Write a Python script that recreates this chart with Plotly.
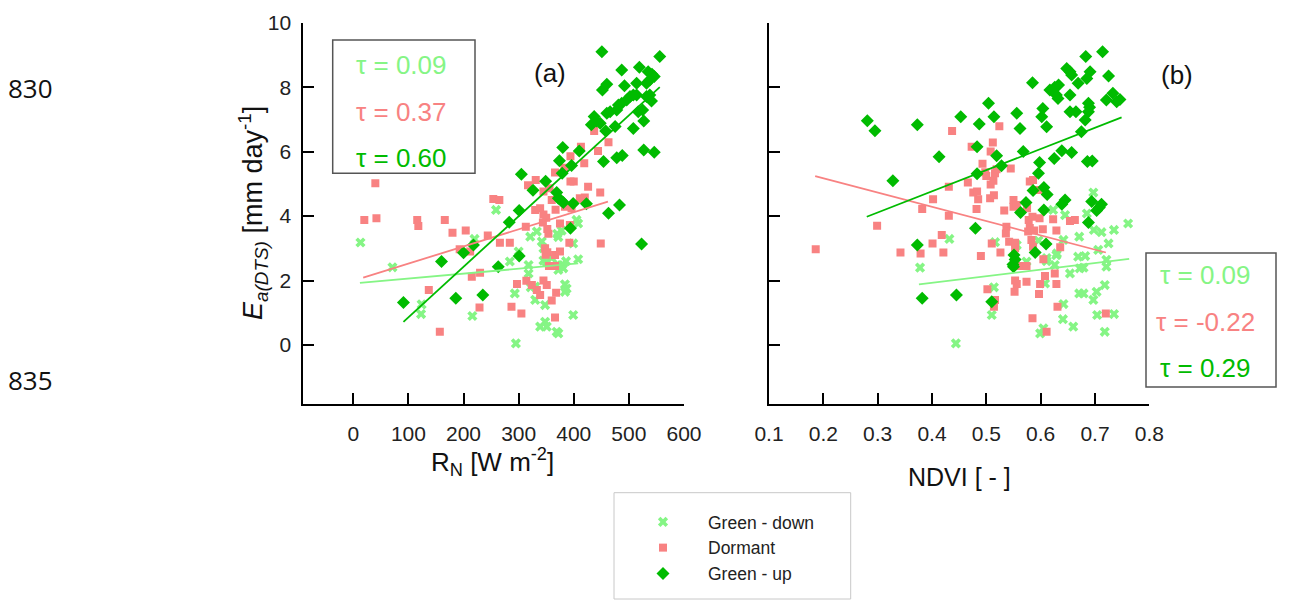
import plotly.graph_objects as go

W, H = 1289, 603

# ---------------- DATA ----------------
series_names = ["Green - down", "Dormant", "Green - up"]
tau_a = ["0.09", "0.37", "0.60"]
tau_b = ["0.09", "-0.22", "0.29"]

rn_ticks = [0, 100, 200, 300, 400, 500, 600]
ndvi_ticks = [0.1, 0.2, 0.3, 0.4, 0.5, 0.6, 0.7, 0.8]
ea_ticks = [0, 2, 4, 6, 8, 10]

# Panel (a): R_N vs Ea  (x, y) pairs
a_green_down = [(13, 3.18), (71, 2.41), (124, 1.26), (123, 0.96), (216, 0.90), (220, 3.29), (259, 4.19),
                (333, 3.52), (321, 3.36), (342, 3.21), (370, 3.45), (378, 3.55), (372, 3.35), (405, 3.88),
                (408, 3.77), (399, 3.15), (372, 2.48), (378, 2.48), (386, 2.60), (381, 2.38), (372, 2.33),
                (408, 2.66), (345, 2.62), (351, 2.57), (318, 2.48), (284, 2.59), (318, 2.22), (322, 1.79),
                (330, 1.81), (384, 1.88), (387, 1.75), (384, 1.65), (293, 1.60), (330, 1.40), (348, 1.24),
                (399, 0.93), (339, 0.57), (348, 0.72), (351, 0.57), (369, 0.41), (372, 0.36), (295, 0.05),
                (345, 3.00), (360, 2.70), (300, 2.90)]
a_dormant = [(40, 5.02), (20, 3.88), (42, 3.93), (116, 3.88), (118, 3.69), (166, 3.88), (180, 3.48),
             (204, 3.55), (244, 3.40), (254, 4.53), (265, 4.50), (266, 3.17), (284, 3.17), (193, 2.97),
             (212, 2.90), (230, 2.24), (215, 2.12), (137, 1.71), (157, 0.41), (229, 1.16), (287, 1.19),
             (305, 0.98), (297, 1.89), (314, 1.99), (324, 1.86), (333, 1.71), (339, 1.55), (345, 2.00),
             (351, 1.86), (360, 1.38), (366, 0.85), (368, 1.62), (313, 3.67), (330, 4.19), (339, 4.24),
             (345, 4.05), (350, 3.95), (344, 3.80), (352, 3.60), (354, 3.45), (367, 4.20), (384, 4.29),
             (396, 4.24), (411, 4.55), (420, 4.58), (448, 4.73), (375, 3.77), (393, 3.72), (348, 3.00),
             (352, 2.88), (349, 2.80), (366, 2.79), (375, 2.90), (392, 3.17), (449, 3.15), (355, 2.45),
             (366, 2.45), (437, 6.64), (463, 6.29), (444, 6.02), (413, 6.15), (419, 5.64), (394, 5.86),
             (394, 5.07), (400, 5.07), (426, 4.91), (366, 5.35), (331, 5.12), (317, 4.96), (345, 4.76),
             (356, 4.86), (417, 4.52), (383, 5.50), (360, 4.50)]
a_green_up = [(451, 9.10), (556, 8.95), (487, 8.53), (519, 8.62), (535, 8.48), (542, 8.40), (546, 8.33),
              (538, 8.22), (532, 8.12), (514, 8.12), (492, 8.04), (460, 8.09), (452, 7.91), (538, 7.76),
              (532, 7.71), (541, 7.57), (525, 7.29), (517, 7.24), (514, 7.76), (508, 7.76), (502, 7.71),
              (496, 7.60), (487, 7.50), (481, 7.45), (478, 7.29), (466, 7.24), (460, 7.19), (437, 7.09),
              (441, 6.95), (432, 6.83), (448, 6.88), (458, 6.64), (475, 6.78), (508, 6.72), (527, 6.95),
              (380, 6.13), (410, 6.02), (374, 5.72), (396, 5.57), (454, 5.69), (478, 5.81), (488, 5.88),
              (527, 6.05), (546, 5.98), (305, 5.30), (349, 5.08), (326, 4.80), (369, 4.73), (372, 4.55),
              (377, 4.48), (381, 4.42), (379, 5.33), (399, 4.39), (423, 4.38), (483, 4.34), (463, 4.09),
              (394, 3.62), (301, 4.17), (283, 3.81), (523, 3.13), (301, 2.76), (263, 2.43), (218, 3.10),
              (200, 2.86), (160, 2.59), (91, 1.32), (186, 1.45), (235, 1.55)]

# Panel (b): NDVI vs Ea  (x, y) pairs
b_green_down = [(0.378, 2.40), (0.432, 3.29), (0.444, 0.05), (0.510, 0.93), (0.514, 1.79), (0.516, 3.19),
                (0.556, 3.10), (0.574, 2.59), (0.599, 0.36), (0.605, 0.52), (0.596, 3.24), (0.623, 4.19),
                (0.629, 2.79), (0.626, 2.48), (0.642, 1.27), (0.641, 0.80), (0.645, 4.03), (0.654, 2.22),
                (0.660, 0.57), (0.671, 3.36), (0.669, 2.74), (0.682, 2.76), (0.672, 2.38), (0.679, 2.40),
                (0.671, 1.60), (0.679, 1.60), (0.685, 4.08), (0.697, 4.73), (0.698, 3.57), (0.712, 3.50),
                (0.697, 1.40), (0.703, 1.65), (0.718, 1.86), (0.704, 0.93), (0.718, 0.41), (0.725, 3.15),
                (0.721, 2.64), (0.721, 2.43), (0.735, 3.57), (0.735, 0.96), (0.761, 3.77), (0.706, 2.95),
                (0.642, 3.26), (0.611, 2.60), (0.608, 1.91), (0.630, 2.84), (0.611, 2.70)]
b_dormant = [(0.186, 2.97), (0.299, 3.70), (0.342, 2.87), (0.379, 2.84), (0.382, 4.22), (0.402, 4.52),
             (0.431, 4.01), (0.431, 4.91), (0.401, 3.15), (0.418, 3.41), (0.421, 2.87), (0.437, 6.64),
             (0.466, 5.04), (0.473, 6.15), (0.476, 4.73), (0.483, 4.76), (0.485, 4.52), (0.482, 4.22),
             (0.490, 2.76), (0.493, 5.62), (0.500, 5.24), (0.498, 5.36), (0.508, 6.00), (0.512, 6.28),
             (0.524, 6.79), (0.508, 4.98), (0.513, 5.10), (0.516, 5.33), (0.507, 4.55), (0.514, 4.65),
             (0.519, 5.45), (0.545, 5.48), (0.510, 3.15), (0.526, 2.87), (0.502, 1.73), (0.516, 1.40),
             (0.514, 1.19), (0.533, 4.17), (0.537, 3.67), (0.536, 3.46), (0.542, 3.20), (0.553, 3.17),
             (0.553, 3.00), (0.550, 4.50), (0.550, 4.29), (0.556, 4.34), (0.553, 2.00), (0.556, 1.89),
             (0.552, 1.65), (0.562, 2.45), (0.574, 2.45), (0.574, 1.96), (0.575, 4.24), (0.578, 3.88),
             (0.580, 3.63), (0.577, 3.52), (0.580, 5.07), (0.586, 5.12), (0.585, 3.98), (0.586, 3.05),
             (0.583, 3.26), (0.588, 3.55), (0.604, 3.59), (0.596, 4.81), (0.598, 3.93), (0.599, 1.89),
             (0.597, 1.58), (0.605, 2.66), (0.608, 2.14), (0.585, 0.83), (0.611, 0.41), (0.623, 3.90),
             (0.629, 3.55), (0.626, 2.22), (0.629, 1.89), (0.631, 1.19), (0.636, 3.03), (0.654, 3.85),
             (0.663, 3.88), (0.720, 0.98)]
b_green_up = [(0.714, 9.10), (0.683, 8.95), (0.648, 8.58), (0.654, 8.48), (0.657, 8.38), (0.691, 8.48),
              (0.685, 8.27), (0.725, 8.35), (0.585, 8.14), (0.617, 7.91), (0.626, 8.00), (0.633, 8.07),
              (0.629, 7.76), (0.632, 7.65), (0.654, 7.76), (0.669, 8.12), (0.733, 7.81), (0.721, 7.60),
              (0.740, 7.55), (0.746, 7.62), (0.688, 7.50), (0.690, 7.38), (0.688, 7.24), (0.654, 7.24),
              (0.665, 7.24), (0.682, 6.98), (0.604, 7.34), (0.602, 7.08), (0.611, 6.77), (0.556, 7.19),
              (0.562, 6.72), (0.504, 7.50), (0.514, 7.08), (0.453, 7.08), (0.487, 6.86), (0.373, 6.83),
              (0.281, 6.96), (0.295, 6.65), (0.483, 6.15), (0.413, 5.84), (0.519, 5.87), (0.568, 6.00),
              (0.639, 6.03), (0.657, 5.97), (0.675, 6.62), (0.625, 5.79), (0.598, 5.66), (0.686, 5.69),
              (0.695, 5.71), (0.528, 5.56), (0.483, 5.31), (0.596, 5.33), (0.328, 5.10), (0.606, 4.89),
              (0.612, 4.67), (0.586, 4.79), (0.573, 4.42), (0.563, 4.11), (0.606, 4.19), (0.639, 4.37),
              (0.645, 4.50), (0.694, 4.45), (0.703, 4.17), (0.708, 4.27), (0.712, 4.37), (0.688, 3.80),
              (0.480, 3.62), (0.373, 3.10), (0.551, 2.79), (0.553, 2.65), (0.549, 2.50), (0.550, 2.43),
              (0.590, 2.87), (0.610, 3.13), (0.382, 1.45), (0.445, 1.55), (0.510, 1.34)]

# Trend lines (endpoints): [x0, x1], [y0, y1]
a_trend_down = ([12, 408], [1.93, 2.53])
a_trend_dorm = ([18, 462], [2.09, 4.45])
a_trend_up = ([91, 556], [0.72, 8.00])
b_trend_down = ([0.376, 0.763], [1.88, 2.67])
b_trend_dorm = ([0.185, 0.720], [5.24, 2.87])
b_trend_up = ([0.280, 0.749], [3.98, 7.06])

# ---------------- STYLE ----------------
C_DOWN = "#85f585"
C_DORM = "#f88282"
C_UP = "#00bb00"
colors = [C_DOWN, C_DORM, C_UP]
symbols = ["x", "square", "diamond"]
sizes = [9, 8, 10]
FONT = "Liberation Sans, Arial, sans-serif"


def px_x(p):
    return p / W


def px_y(p):
    return 1 - p / H


fig = go.Figure()

panels = [
    (("x", "y"), [a_green_down, a_dormant, a_green_up], [a_trend_down, a_trend_dorm, a_trend_up], True),
    (("x2", "y2"), [b_green_down, b_dormant, b_green_up], [b_trend_down, b_trend_dorm, b_trend_up], False),
]
for (xa, ya), sets, trends, show in panels:
    for name, pts, col, sym, sz in zip(series_names, sets, colors, symbols, sizes):
        xs, ys = zip(*pts)
        fig.add_trace(go.Scatter(
            x=list(xs), y=list(ys), mode="markers", name=name, xaxis=xa, yaxis=ya,
            showlegend=show,
            marker=dict(symbol=sym, size=sz, color=col, line=dict(width=0)),
        ))
    for (tx, ty), col in zip(trends, colors):
        fig.add_trace(go.Scatter(x=tx, y=ty, mode="lines", xaxis=xa, yaxis=ya, showlegend=False,
                                 line=dict(color=col, width=1.8), hoverinfo="skip"))

axis_common = dict(showline=True, linecolor="black", linewidth=2, ticks="inside", ticklen=11,
                   tickwidth=2, tickcolor="black", showgrid=False, zeroline=False, automargin=False,
                   tickfont=dict(family=FONT, size=21, color="#222"))
yrange = [-1.84, 10]
ydom = [px_y(404.3), px_y(22.7)]

fig.update_layout(
    width=W, height=H, margin=dict(l=0, r=0, t=0, b=0, autoexpand=False),
    paper_bgcolor="white", plot_bgcolor="white",
    xaxis=dict(domain=[px_x(303.3), px_x(684)], range=[-90.7, 600], tickvals=rn_ticks,
               anchor="y", ticklabelstandoff=9, **axis_common),
    yaxis=dict(domain=ydom, range=yrange, tickvals=ea_ticks, anchor="x", ticklabelstandoff=6,
               **axis_common),
    xaxis2=dict(domain=[px_x(769), px_x(1149.3)], range=[0.1, 0.8], tickvals=ndvi_ticks,
                ticktext=[str(v) for v in ndvi_ticks], anchor="y2", ticklabelstandoff=9, **axis_common),
    yaxis2=dict(domain=ydom, range=yrange, tickvals=ea_ticks, anchor="x2", showticklabels=False,
                **axis_common),
    legend=dict(x=px_x(618), y=px_y(504), xanchor="left", yanchor="top", itemwidth=80,
                tracegroupgap=0, bgcolor="rgba(0,0,0,0)", borderwidth=0,
                font=dict(family=FONT, size=17.5, color="#222"), itemclick=False),
    showlegend=True,
)

shapes = [
    dict(type="rect", xref="paper", yref="paper", x0=px_x(332.7), x1=px_x(475), y0=px_y(173.3),
         y1=px_y(40), line=dict(color="#555", width=1.5)),
    dict(type="rect", xref="paper", yref="paper", x0=px_x(1146), x1=px_x(1276), y0=px_y(387),
         y1=px_y(253), line=dict(color="#555", width=1.5)),
    dict(type="rect", xref="paper", yref="paper", x0=px_x(614), x1=px_x(850.7), y0=px_y(599),
         y1=px_y(492.7), line=dict(color="#c8c8c8", width=1)),
]
fig.update_layout(shapes=shapes)

ann = []


def text(x, y, s, size, color="#111", angle=0, family=FONT):
    ann.append(dict(x=px_x(x), y=px_y(y), xref="paper", yref="paper", text=s, showarrow=False,
                    xanchor="center", yanchor="middle", textangle=angle,
                    font=dict(family=family, size=size, color=color)))


for t, col, yy in zip(tau_a, colors, [65, 111.7, 158.3]):
    text(401, yy, "τ = " + t, 26, col)
for t, col, yy in zip(tau_b, colors, [275, 321.7, 368.3]):
    text(1205, yy, "τ = " + t, 26, col)

text(550, 73, "(a)", 26)
text(1177, 75, "(b)", 26)
text(493, 462, "R<sub>N</sub> [W m<sup>-2</sup>]", 26)
text(959, 477, "NDVI [ - ]", 25)
text(253, 213, "<i>E</i><sub><i>a(DTS)</i></sub> [mm day<sup>-1</sup>]", 27, angle=-90)
text(30, 88, "830", 26, "#111", family="Open Sans, sans-serif")
text(30, 380, "835", 26, "#111", family="Open Sans, sans-serif")

fig.update_layout(annotations=ann)

fig.write_html("out.html", config={"displayModeBar": False},
               post_script="document.body.style.margin='0px';")
